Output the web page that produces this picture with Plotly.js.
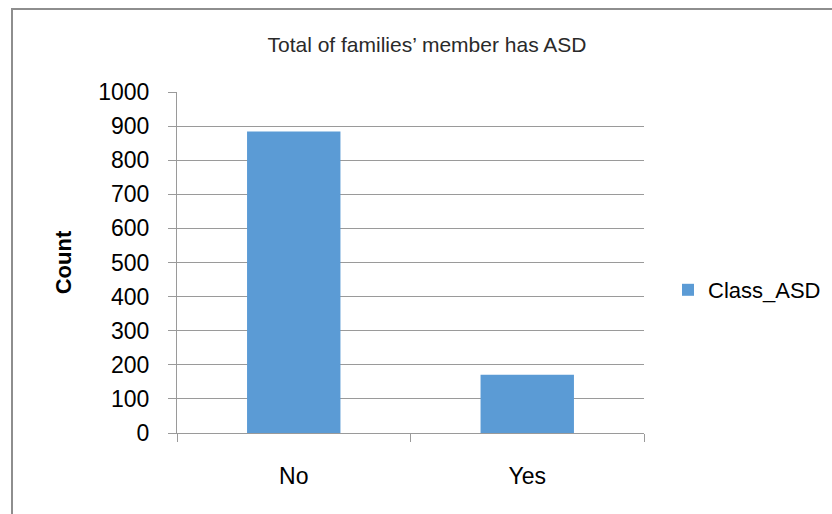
<!DOCTYPE html>
<html>
<head>
<meta charset="utf-8">
<script src="https://cdn.plot.ly/plotly-3.0.1.min.js"></script>
<style>
  html, body { margin: 0; padding: 0; background: #ffffff; }
  #wrap { position: relative; width: 832px; height: 514px; overflow: hidden; }
  #frame { position: absolute; left: 11px; top: 8px; width: 900px; height: 600px;
           border-top: 2px solid #8e8e8e; border-left: 2px solid #8e8e8e; pointer-events: none; }
  #chart { position: absolute; left: 0; top: 0; width: 832px; height: 514px; }
</style>
</head>
<body>
<div id="wrap">
  <div id="chart"></div>
  <div id="frame"></div>
</div>
<script>
const categories = ["No", "Yes"];
const countValues = [884, 171];
const seriesName = "Class_ASD";
const chartTitle = "Total of families\u2019 member has ASD";
const yTitle = "Count";

const fontFamily = '"Liberation Sans", Arial, sans-serif';
const gridColor = "#9a9a9a";

const data = [{
  type: "bar",
  x: categories,
  y: countValues,
  name: seriesName,
  marker: { color: "#5B9BD5" },
  showlegend: true
}];

const layout = {
  width: 832,
  height: 514,
  paper_bgcolor: "rgba(0,0,0,0)",
  plot_bgcolor: "rgba(0,0,0,0)",
  margin: { l: 177, r: 188, t: 92, b: 81, pad: 0, autoexpand: false },
  font: { family: fontFamily, color: "#000000", size: 23 },
  title: {
    text: chartTitle,
    font: { family: fontFamily, size: 21, color: "#2a2a2a" },
    x: 427 / 832, xref: "container", xanchor: "center",
    y: 1 - 45 / 514, yref: "container", yanchor: "middle"
  },
  bargap: 0.6,
  showlegend: true,
  legend: {
    x: (668 - 177) / 467, xanchor: "left",
    y: (433 - 290) / 341, yanchor: "middle",
    font: { family: fontFamily, size: 22, color: "#000000" },
    bgcolor: "rgba(0,0,0,0)"
  },
  xaxis: {
    type: "category",
    showgrid: false,
    zeroline: false,
    showline: true,
    linecolor: gridColor,
    linewidth: 1,
    ticks: "outside",
    tickson: "boundaries",
    ticklen: 8,
    tickcolor: gridColor,
    tickwidth: 1,
    tickfont: { family: fontFamily, size: 23, color: "#000000" },
    ticklabelstandoff: 22
  },
  yaxis: {
    range: [0, 1000],
    dtick: 100,
    tick0: 0,
    showgrid: true,
    gridcolor: gridColor,
    gridwidth: 1,
    zeroline: false,
    showline: true,
    linecolor: gridColor,
    linewidth: 1,
    ticks: "outside",
    ticklen: 8,
    tickcolor: gridColor,
    tickwidth: 1,
    tickfont: { family: fontFamily, size: 23, color: "#000000" },
    ticklabelstandoff: 14,
    title: {
      text: "<b>" + yTitle + "</b>",
      font: { family: fontFamily, size: 22, color: "#000000" },
      standoff: 20
    }
  }
};

Plotly.newPlot("chart", data, layout, { displayModeBar: false, staticPlot: true });
</script>
</body>
</html>
